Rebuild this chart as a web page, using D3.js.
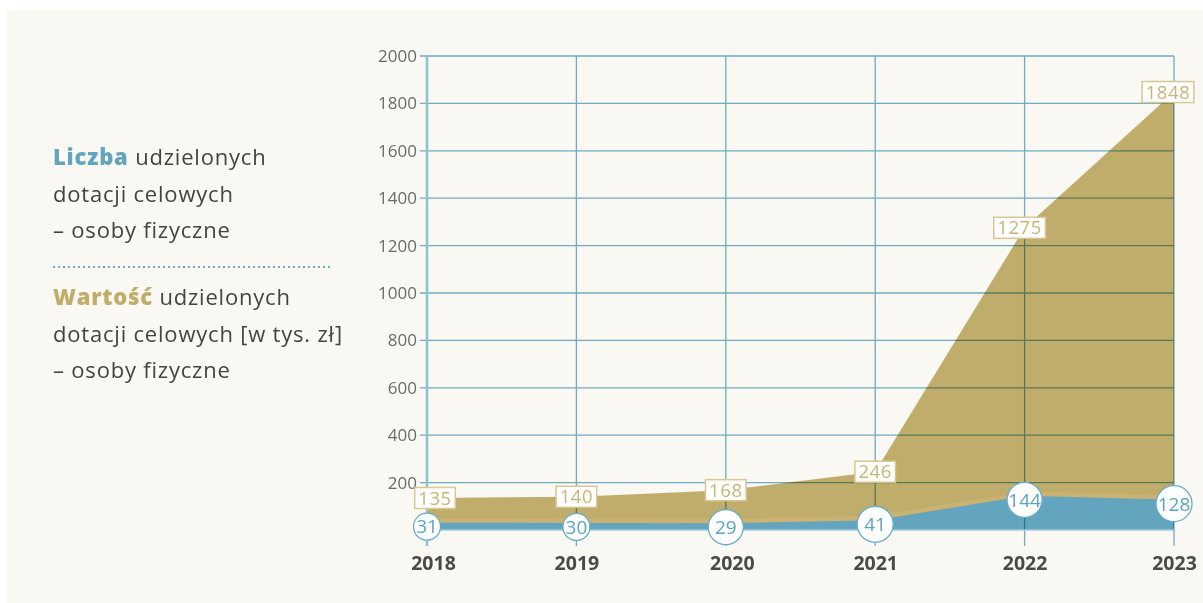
<!DOCTYPE html>
<html>
<head>
<meta charset="utf-8">
<script src="https://cdn.jsdelivr.net/npm/d3@7"></script>
<style>
  body { margin: 0; background: #ffffff; }
  svg { display: block; font-family: "Open Sans", "Noto Sans", sans-serif; }
</style>
</head>
<body>
<svg id="chart"></svg>
<script>
// data
var years = ["2018", "2019", "2020", "2021", "2022", "2023"];
var liczba = [31, 30, 29, 41, 144, 128];           // count of grants
var wartosc = [135, 140, 168, 246, 1275, 1848];    // value in thousands PLN
var yTicks = [200, 400, 600, 800, 1000, 1200, 1400, 1600, 1800, 2000];

// label nudges and bubble sizes (style only)
var boxDx = [8, 0, 0, 0, -5, -6];
var bubbleR = [13.5, 13.5, 17.5, 18, 17.5, 18];

var svgWidth = 1203, svgHeight = 603;
var blue = "#63a5be", gold = "#c1ad6b";

var svg = d3.select("#chart")
    .attr("width", svgWidth)
    .attr("height", svgHeight);

// cream panel
svg.append("rect")
    .attr("x", 7).attr("y", 10)
    .attr("width", svgWidth - 7).attr("height", svgHeight - 10)
    .attr("fill", "#f9f8f2");

// scales
var x = d3.scalePoint().domain(years).range([427, 1174]);
var y = d3.scaleLinear().domain([0, 2000]).range([530, 56]);

// areas
var goldArea = d3.area()
    .x(function(d, i) { return x(years[i]); })
    .y0(y(0))
    .y1(function(d) { return y(d); });

svg.append("path")
    .datum(wartosc)
    .attr("d", goldArea)
    .attr("fill", gold);

// faint light seam above the blue area
svg.append("path")
    .datum(liczba)
    .attr("d", d3.line()
        .x(function(d, i) { return x(years[i]); })
        .y(function(d) { return y(d) - 2; }))
    .attr("fill", "none")
    .attr("stroke", "#d2b87c")
    .attr("stroke-width", 5)
    .attr("opacity", 0.45);

svg.append("path")
    .datum(liczba)
    .attr("d", goldArea)
    .attr("fill", blue);

// grid, multiplied over the areas
var grid = svg.append("g").style("mix-blend-mode", "multiply");

grid.selectAll("line.h")
    .data(yTicks)
    .enter()
    .append("line")
    .attr("x1", 420).attr("x2", x("2023"))
    .attr("y1", function(d) { return y(d); })
    .attr("y2", function(d) { return y(d); })
    .attr("stroke", "#74b0cb")
    .attr("stroke-width", 1.3);

grid.selectAll("line.v")
    .data(years.slice(1))
    .enter()
    .append("line")
    .attr("x1", function(d) { return x(d); })
    .attr("x2", function(d) { return x(d); })
    .attr("y1", y(2000)).attr("y2", 546)
    .attr("stroke", "#74b0cb")
    .attr("stroke-width", 1.3);

// baseline and y axis line
svg.append("line")
    .attr("x1", 427).attr("x2", x("2023"))
    .attr("y1", y(0)).attr("y2", y(0))
    .attr("stroke", "#9fcbdb").attr("stroke-width", 1.5);

svg.append("line")
    .attr("x1", 427).attr("x2", 427)
    .attr("y1", y(2000)).attr("y2", 546)
    .attr("stroke", "#8cc2d5").attr("stroke-width", 2.5);

// y axis labels
var yAxis = d3.axisLeft(y).tickValues(yTicks).tickFormat(d3.format("d"))
    .tickSize(0).tickPadding(10);
var yg = svg.append("g")
    .attr("transform", "translate(427,0)")
    .call(yAxis);
yg.select(".domain").remove();
yg.selectAll("text")
    .attr("fill", "#6b6b6b")
    .style("font-size", "17px")
    .style("font-family", "'Open Sans', sans-serif");

// x axis labels
var xAxis = d3.axisBottom(x).tickSize(0).tickPadding(0);
var xg = svg.append("g")
    .attr("transform", "translate(0,556)")
    .call(xAxis);
xg.select(".domain").remove();
xg.selectAll("text")
    .attr("fill", "#4a4a4a")
    .attr("dy", "0.71em")
    .style("font-size", "19.5px")
    .style("font-weight", "700")
    .style("font-family", "'Open Sans', sans-serif")
    .attr("dx", function(d, i) { return i === 0 ? 6 : (i === 2 ? 6 : 0); });

// value boxes (gold)
var boxes = svg.selectAll("g.box")
    .data(wartosc)
    .enter()
    .append("g")
    .attr("transform", function(d, i) {
        return "translate(" + (x(years[i]) + boxDx[i]) + "," + y(d) + ")";
    });

boxes.append("text")
    .text(function(d) { return d; })
    .attr("text-anchor", "middle")
    .attr("dy", "0.36em")
    .attr("fill", "#c9b476")
    .style("font-size", "18.5px")
    .style("letter-spacing", "0.6px")
    .each(function() {
        var b = this.getBBox();
        d3.select(this.parentNode).insert("rect", "text")
            .attr("x", b.x - 3.5).attr("y", -10.5)
            .attr("width", b.width + 7).attr("height", 21)
            .attr("fill", "#ffffff")
            .attr("stroke", "#d8c792")
            .attr("stroke-width", 1.5);
    });

// count bubbles (blue)
var bubbles = svg.selectAll("g.bubble")
    .data(liczba)
    .enter()
    .append("g")
    .attr("transform", function(d, i) {
        return "translate(" + x(years[i]) + "," + (y(d) + 4) + ")";
    });

bubbles.append("circle")
    .attr("r", function(d, i) { return bubbleR[i]; })
    .attr("fill", "#ffffff")
    .attr("stroke", "#6aaccb")
    .attr("stroke-width", 1.3);

bubbles.append("text")
    .text(function(d) { return d; })
    .attr("text-anchor", "middle")
    .attr("dy", "0.36em")
    .attr("fill", "#5aa4c3")
    .style("font-size", "19px");

// legend text on the left
var legend = svg.append("g").attr("transform", "translate(53,0)");
var legendLines = [
    [["Liczba", blue, 800], [" udzielonych", "#444", 400]],
    [["dotacji celowych", "#444", 400]],
    [["– osoby fizyczne", "#444", 400]],
    [["Wartość", gold, 800], [" udzielonych", "#444", 400]],
    [["dotacji celowych [w tys. zł]", "#444", 400]],
    [["– osoby fizyczne", "#444", 400]]
];
var legendY = [165, 202, 238, 305, 342, 378];

legendLines.forEach(function(parts, i) {
    var t = legend.append("text")
        .attr("x", 0).attr("y", legendY[i])
        .style("font-size", "22px")
        .style("letter-spacing", "0.8px");
    parts.forEach(function(p) {
        t.append("tspan")
            .text(p[0])
            .attr("fill", p[1])
            .style("font-weight", p[2]);
    });
});

legend.append("line")
    .attr("x1", 0).attr("x2", 280)
    .attr("y1", 267).attr("y2", 267)
    .attr("stroke", "#6aaccb")
    .attr("stroke-width", 2)
    .attr("stroke-dasharray", "2,3");
</script>
</body>
</html>
